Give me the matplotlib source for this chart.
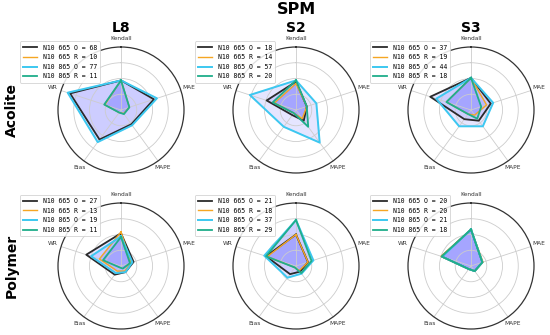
import numpy as np
import matplotlib
matplotlib.use("Agg")
import matplotlib.pyplot as plt

# axis order around the radar, clockwise from the top
metrics = ["Kendall", "MAE", "MAPE", "Bias", "WR"]
series = ["N10 665 O", "N10 665 R", "N10 865 O", "N10 865 R"]
sensors = ["L8", "S2", "S3"]
processors = ["Acolite", "Polymer"]

# normalised scores, one row per series (same order as `series`)
acolite_l8 = [
    [0.47, 0.55, 0.28, 0.58, 0.85],
    [0.47, 0.14, 0.07, 0.05, 0.27],
    [0.47, 0.60, 0.30, 0.63, 0.89],
    [0.47, 0.14, 0.08, 0.05, 0.28],
]
acolite_s2 = [
    [0.45, 0.18, 0.21, 0.10, 0.49],
    [0.42, 0.18, 0.17, 0.06, 0.36],
    [0.47, 0.34, 0.64, 0.33, 0.77],
    [0.47, 0.18, 0.33, 0.06, 0.39],
]
acolite_s3 = [
    [0.51, 0.33, 0.21, 0.18, 0.68],
    [0.51, 0.26, 0.10, 0.08, 0.41],
    [0.51, 0.37, 0.32, 0.32, 0.58],
    [0.51, 0.17, 0.17, 0.08, 0.41],
]
polymer_l8 = [
    [0.52, 0.21, 0.12, 0.17, 0.58],
    [0.54, 0.17, 0.10, 0.10, 0.36],
    [0.47, 0.19, 0.12, 0.14, 0.50],
    [0.46, 0.15, 0.05, 0.03, 0.30],
]
polymer_s2 = [
    [0.50, 0.20, 0.11, 0.16, 0.50],
    [0.50, 0.20, 0.09, 0.03, 0.48],
    [0.73, 0.29, 0.15, 0.23, 0.53],
    [0.73, 0.26, 0.14, 0.03, 0.50],
]
polymer_s3 = [
    [0.58, 0.19, 0.10, 0.06, 0.49],
    [0.58, 0.20, 0.10, 0.06, 0.50],
    [0.58, 0.19, 0.10, 0.06, 0.48],
    [0.58, 0.19, 0.10, 0.06, 0.49],
]

# match-up counts shown in each legend
counts_acolite = [[68, 10, 77, 11], [18, 14, 57, 20], [37, 19, 44, 18]]
counts_polymer = [[27, 13, 19, 11], [21, 18, 37, 29], [20, 20, 21, 18]]

panels = [[acolite_l8, acolite_s2, acolite_s3], [polymer_l8, polymer_s2, polymer_s3]]
counts = [counts_acolite, counts_polymer]

colors = ["#2b2b2b", "#f5a623", "#3cc8f0", "#1fae8a"]
widths = [1.3, 1.0, 1.4, 1.3]

W, H = 550, 335
fig = plt.figure(figsize=(W / 100, H / 100), dpi=100)

centers_x = [121, 296, 471]
centers_y = [110, 266]
radius = 63

angles = np.linspace(0, 2 * np.pi, len(metrics), endpoint=False)
angles_closed = np.append(angles, angles[0])

for i, proc in enumerate(processors):
    for j, sensor in enumerate(sensors):
        cx, cy = centers_x[j], centers_y[i]
        ax = fig.add_axes(
            [(cx - radius) / W, (H - cy - radius) / H, 2 * radius / W, 2 * radius / H],
            projection="polar",
        )
        ax.set_theta_offset(np.pi / 2)
        ax.set_theta_direction(-1)
        for k, name in enumerate(series):
            vals = panels[i][j][k]
            v = np.append(vals, vals[0])
            ax.plot(angles_closed, v, color=colors[k], lw=widths[k],
                    label=f"{name} = {counts[i][j][k]}")
            ax.fill(angles_closed, v, color="blue", alpha=0.1)
        ax.set_xticks(angles)
        ax.set_xticklabels(metrics, fontsize=4.2, color="#333333")
        ax.set_thetalim(0, 2 * np.pi)
        ax.set_ylim(0, 1)
        ax.set_yticks([0.25, 0.5, 0.75])
        ax.set_yticklabels([])
        ax.tick_params(axis="x", pad=-4.5)
        ax.grid(color="#cccccc", lw=0.6)
        ax.spines["polar"].set_color("#333333")
        ax.spines["polar"].set_linewidth(0.9)
        leg = ax.legend(loc="upper left", bbox_to_anchor=(-0.33, 1.07 if i == 0 else 1.09),
                        prop={"family": "DejaVu Sans Mono", "size": 4.7},
                        handlelength=2.2, labelspacing=0.55, borderpad=0.5,
                        framealpha=0.85, edgecolor="#cccccc")
        leg.get_frame().set_linewidth(0.6)
        if i == 0:
            fig.text(cx / W, 1 - 28 / H, sensor, ha="center", va="center",
                     fontsize=10, fontweight="bold")

fig.text(296 / W, 1 - 10 / H, "SPM", ha="center", va="center",
         fontsize=11.5, fontweight="bold")
for i, proc in enumerate(processors):
    fig.text(12 / W, 1 - centers_y[i] / H, proc, ha="center", va="center",
             rotation=90, fontsize=10, fontweight="bold")

fig.savefig("out.png", dpi=100)
